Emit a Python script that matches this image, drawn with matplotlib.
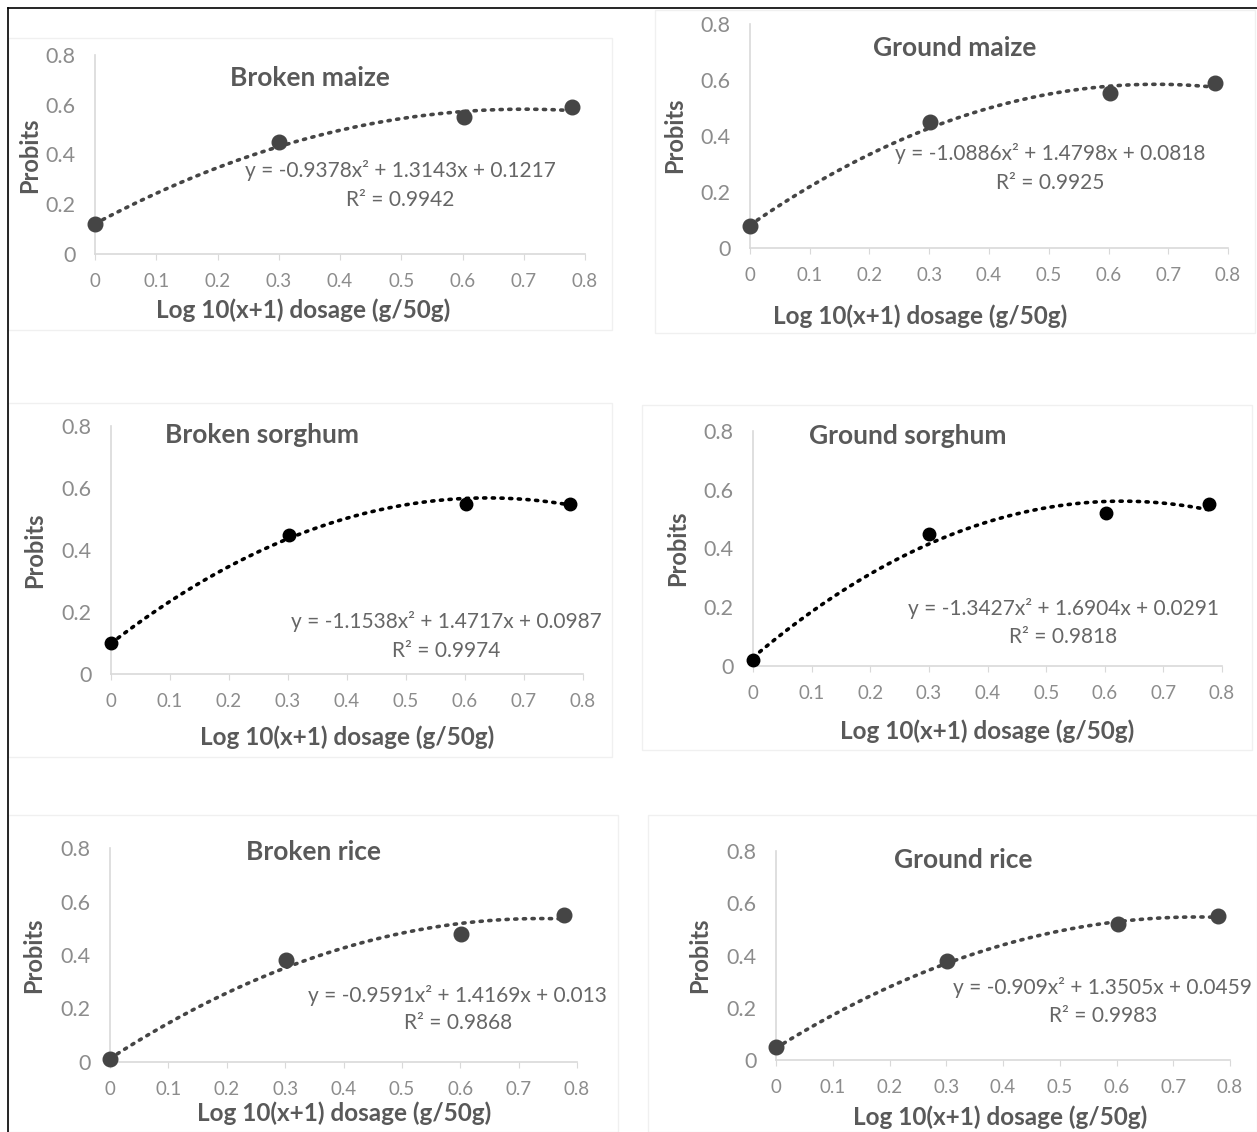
import numpy as np
import matplotlib
matplotlib.use("Agg")
import matplotlib.pyplot as plt
from matplotlib.lines import Line2D
from matplotlib.patches import Rectangle

plt.rcParams['font.family'] = ['Lato', 'DejaVu Sans']

# ---- data ----
titles = ["Broken maize", "Ground maize", "Broken sorghum",
          "Ground sorghum", "Broken rice", "Ground rice"]
dose_x = [0.0, 0.301, 0.602, 0.778]
broken_maize = [0.12, 0.45, 0.55, 0.59]
ground_maize = [0.08, 0.45, 0.555, 0.59]
broken_sorghum = [0.10, 0.45, 0.55, 0.55]
ground_sorghum = [0.02, 0.45, 0.52, 0.55]
broken_rice = [0.01, 0.38, 0.48, 0.55]
ground_rice = [0.05, 0.38, 0.52, 0.55]
series = [broken_maize, ground_maize, broken_sorghum,
          ground_sorghum, broken_rice, ground_rice]
# fitted quadratic coefficients (a, b, c) and R^2 as printed
coef_a = [-0.9378, -1.0886, -1.1538, -1.3427, -0.9591, -0.909]
coef_b = [1.3143, 1.4798, 1.4717, 1.6904, 1.4169, 1.3505]
coef_c = [0.1217, 0.0818, 0.0987, 0.0291, 0.013, 0.0459]
r2 = ["0.9942", "0.9925", "0.9974", "0.9818", "0.9868", "0.9983"]
eq_texts = ["y = -0.9378x² + 1.3143x + 0.1217",
            "y = -1.0886x² + 1.4798x + 0.0818",
            "y = -1.1538x² + 1.4717x + 0.0987",
            "y = -1.3427x² + 1.6904x + 0.0291",
            "y = -0.9591x² + 1.4169x + 0.013",
            "y = -0.909x² + 1.3505x + 0.0459"]
xticks = [0, 0.1, 0.2, 0.3, 0.4, 0.5, 0.6, 0.7, 0.8]
xtick_labels = ["0", "0.1", "0.2", "0.3", "0.4", "0.5", "0.6", "0.7", "0.8"]
yticks = [0, 0.2, 0.4, 0.6, 0.8]
ytick_labels = ["0", "0.2", "0.4", "0.6", "0.8"]

# ---- layout (pixels) ----
W, H = 1257, 1132
# (x at 0, x at 0.8, y at 0, y at 0.8)
axes_px = [(95, 585, 254, 55), (750, 1228, 248, 24),
           (111, 583, 674, 426), (753, 1222, 666, 431),
           (110, 577, 1062, 848), (776, 1230, 1060, 851)]
boxes_px = [(8, 38, 612, 330), (655, 10, 1255, 333),
            (8, 403, 612, 757), (642, 405, 1252, 750),
            (8, 815, 618, 1132), (648, 815, 1257, 1132)]
title_pos = [(0.351, 0.708), (0.343, 0.714), (0.256, 0.771),
             (0.264, 0.783), (0.348, 0.785), (0.330, 0.766)]
eq_pos = [(0.498, 0.334, 0.217), (0.502, 0.336, 0.232),
          (0.568, 0.168, 0.074), (0.529, 0.197, 0.099),
          (0.596, 0.250, 0.146), (0.576, 0.276, 0.168)]
xlabel_px = [(303, 310), (920, 316), (347, 737), (987, 731),
             (344, 1113), (1000, 1117)]
ylabel_px = [(30, 155), (675, 135), (35, 550), (678, 548),
             (34, 955), (700, 955)]
mcolors = ["#454545", "#454545", "#000000", "#000000", "#454545", "#454545"]
msizes = [10.5, 10.5, 9, 9, 10.5, 10.5]

fig = plt.figure(figsize=(W / 100, H / 100), dpi=100)
fig.patch.set_facecolor("white")

# outer black border lines (top and left)
fig.add_artist(Line2D([8 / W, 1.0], [1 - 8 / H, 1 - 8 / H], color="black", lw=1.2))
fig.add_artist(Line2D([8 / W, 8 / W], [1 - 8 / H, 0.0], color="black", lw=1.2))

for i in range(6):
    bx0, by0, bx1, by1 = boxes_px[i]
    fig.add_artist(Rectangle((bx0 / W, 1 - by1 / H), (bx1 - bx0) / W, (by1 - by0) / H,
                             fill=False, edgecolor="#f0f0f0", lw=1.0))
    x0, x8, y0, y8 = axes_px[i]
    ax = fig.add_axes([x0 / W, 1 - y0 / H, (x8 - x0) / W, (y0 - y8) / H])
    ax.set_xlim(0, 0.8)
    ax.set_ylim(0, 0.8)
    ax.patch.set_alpha(0)
    for s in ["top", "right"]:
        ax.spines[s].set_visible(False)
    ax.spines["left"].set_color("#d9d9d9")
    ax.spines["bottom"].set_color("#d9d9d9")
    ax.spines["left"].set_linewidth(1.2)
    ax.spines["bottom"].set_linewidth(1.2)
    ax.set_xticks(xticks)
    ax.set_xticklabels(xtick_labels)
    ax.set_yticks(yticks)
    ax.set_yticklabels(ytick_labels)
    ax.tick_params(axis="x", length=4, color="#d9d9d9", pad=10,
                   labelsize=13.5, labelcolor="#8c8c8c")
    ax.tick_params(axis="y", length=0, pad=14,
                   labelsize=15.5, labelcolor="#8c8c8c")

    # trend line
    xx = np.linspace(0, dose_x[-1], 200)
    yy = coef_a[i] * xx ** 2 + coef_b[i] * xx + coef_c[i]
    ax.plot(xx, yy, linestyle=(0, (0.6, 1.8)), lw=2.6, color=mcolors[i],
            dash_capstyle="round", zorder=2)
    ax.plot(dose_x, series[i], "o", color=mcolors[i], ms=msizes[i], zorder=3,
            clip_on=False)

    tx, ty = title_pos[i]
    ax.text(tx, ty, titles[i], ha="center", va="center", fontsize=19,
            fontweight="bold", color="#595959")
    ex, ey, ry = eq_pos[i]
    ax.text(ex, ey, eq_texts[i], ha="center", va="center", fontsize=15,
            color="#666666", clip_on=False)
    ax.text(ex, ry, "R² = " + r2[i], ha="center", va="center", fontsize=15,
            color="#666666", clip_on=False)

    lx, ly = xlabel_px[i]
    fig.text(lx / W, 1 - ly / H, "Log 10(x+1) dosage (g/50g)", ha="center",
             va="center", fontsize=17.5, fontweight="bold", color="#595959")
    px, py = ylabel_px[i]
    fig.text(px / W, 1 - py / H, "Probits", ha="center", va="center",
             rotation=90, fontsize=17, fontweight="bold", color="#595959")

fig.savefig("out.png", dpi=100)
